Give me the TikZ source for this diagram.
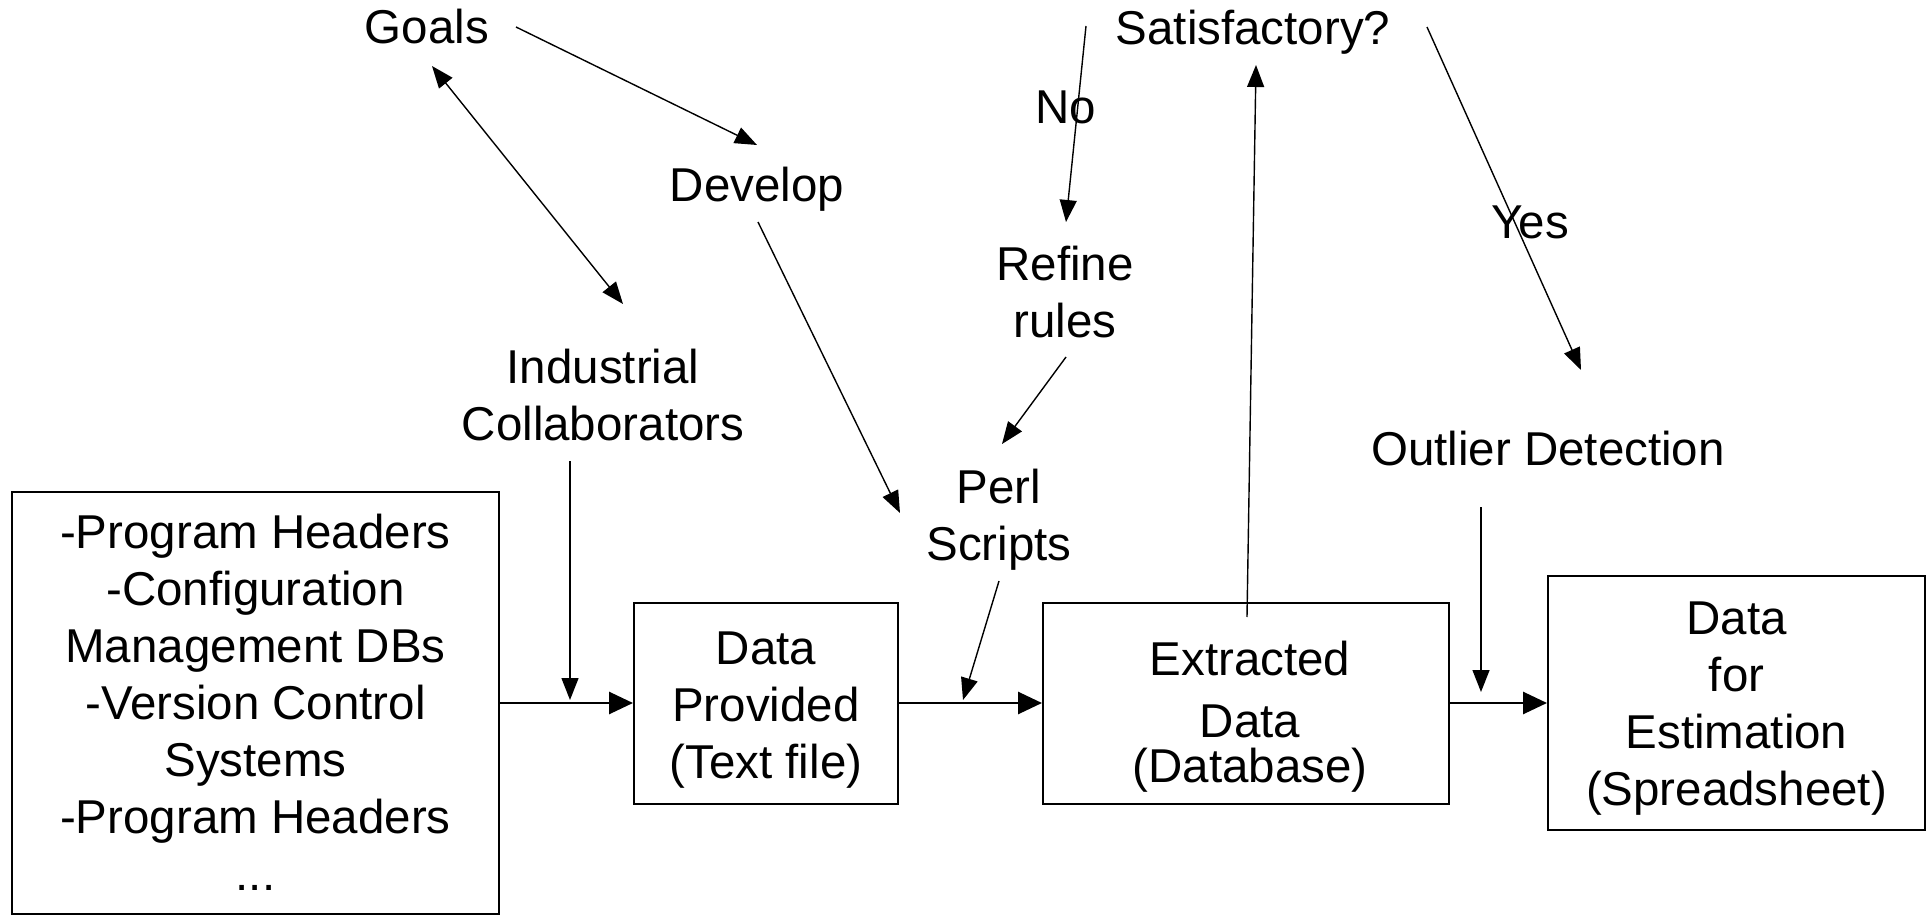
\documentclass[tikz,border=0pt]{standalone}
\usepackage{fontspec}
\setmainfont{Liberation Sans}
\usetikzlibrary{arrows.meta}

\tikzset{
  box/.style={draw, line width=1pt, inner sep=0pt},
  lbl/.style={inner sep=0pt, align=center, anchor=base},
  thin/.style={line width=0.7pt, -{Triangle[length=11pt,width=8.5pt]}},
  both/.style={line width=0.7pt, {Triangle[length=11pt,width=8.5pt]}-{Triangle[length=11pt,width=8.5pt]}},
  flow/.style={line width=1.4pt, -{Triangle[length=12pt,width=11pt]}},
}

\begin{document}
\begin{tikzpicture}[x=0.5pt, y=-0.5pt,
  every node/.style={font=\fontsize{23.75pt}{28.5pt}\selectfont}]
\useasboundingbox (0,0) rectangle (1929,915);

% main data stores
\node[box, minimum width=243.5pt, minimum height=211pt] (src) at (255.5,703) {};
\node[box, minimum width=132pt, minimum height=100.5pt] (dp) at (766,703) {};
\node[box, minimum width=203pt, minimum height=100.5pt] (ext) at (1246,703) {};
\node[box, minimum width=188.5pt, minimum height=127pt] (est) at (1736.5,703) {};

% texts of the stores (anchored at the baseline of their last line)
\node[lbl] (src-t) at (255.5,890) {-Program Headers\\-Configuration\\Management DBs\\-Version Control\\Systems\\-Program Headers\\...};
\node[lbl] (dp-t) at (766,778) {Data\\Provided\\(Text file)};
\node[lbl] (ext-t) at (1250,782) {Extracted\\[2.5pt]Data\\[-6pt](Database)};
\node[lbl] (est-t) at (1736.5,805) {Data\\for\\Estimation\\(Spreadsheet)};

% activity labels
\node[lbl] (goals) at (427,44) {Goals};
\node[lbl] (develop) at (757,202) {Develop};
\node[lbl] (satis) at (1253,45) {Satisfactory?};
\node[lbl] (no) at (1066,124) {No};
\node[lbl] (refine) at (1065,337) {Refine\\rules};
\node[lbl] (yes) at (1530,238) {Yes};
\node[lbl] (indus) at (603,440) {Industrial\\Collaborators};
\node[lbl] (perl) at (999,560) {Perl\\Scripts};
\node[lbl] (outlier) at (1548,465) {Outlier Detection};

% connector end points
\coordinate (goals-o) at (516,27);
\coordinate (dev-i) at (757,145);
\coordinate (goals-b) at (432,66);
\coordinate (indus-t) at (623,304);
\coordinate (dev-o) at (758,222);
\coordinate (perl-l) at (900,513);
\coordinate (no-o) at (1086,26);
\coordinate (refine-i) at (1066,222);
\coordinate (refine-o) at (1066,357);
\coordinate (perl-t) at (1002,444);
\coordinate (perl-o) at (999,581);
\coordinate (j2) at (963,700);
\coordinate (indus-o) at (570,461);
\coordinate (j1) at (570,700);
\coordinate (ext-o) at (1247,617);
\coordinate (satis-i) at (1256,65);
\coordinate (yes-o) at (1427,27);
\coordinate (outlier-i) at (1581,370);
\coordinate (outlier-o) at (1481,507);
\coordinate (j3) at (1481,692);

% main flow
\draw[flow] (src.east) -- (dp.west);
\draw[flow] (dp.east) -- (ext.west);
\draw[flow] (ext.east) -- (est.west);

% feedback and inputs
\draw[thin] (goals-o) -- (dev-i);
\draw[both] (goals-b) -- (indus-t);
\draw[thin] (dev-o) -- (perl-l);
\draw[thin] (no-o) -- (refine-i);
\draw[thin] (refine-o) -- (perl-t);
\draw[thin] (perl-o) -- (j2);
\draw[thin] (indus-o) -- (j1);
\draw[thin] (ext-o) -- (satis-i);
\draw[thin] (yes-o) -- (outlier-i);
\draw[thin] (outlier-o) -- (j3);
\end{tikzpicture}
\end{document}
